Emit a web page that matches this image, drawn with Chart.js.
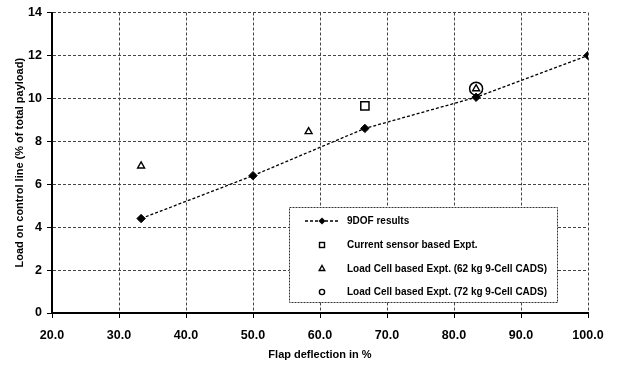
<!DOCTYPE html>
<html>
<head>
<meta charset="utf-8">
<script src="https://cdn.jsdelivr.net/npm/chart.js@4.4.1/dist/chart.umd.min.js"></script>
<style>
  html, body { margin: 0; padding: 0; background: #fff; }
  #wrap { width: 618px; height: 365px; position: relative; }
</style>
</head>
<body>
<div id="wrap"><canvas id="grafico"></canvas></div>
<script>
// ===== Datos =====
const flapPct = [33.3, 50.0, 66.7, 83.3, 100.0];
const dofLoad = [4.4, 6.4, 8.6, 10.05, 12.0];

const sensorX = [66.7];
const sensorY = [9.65];

const cell62X = [33.3, 58.3, 83.3];
const cell62Y = [6.85, 8.45, 10.45];

const cell72X = [83.3];
const cell72Y = [10.45];

const legendLabels = [
  "9DOF results",
  "Current sensor based Expt.",
  "Load Cell based Expt. (62 kg 9-Cell CADS)",
  "Load Cell based Expt. (72 kg 9-Cell CADS)"
];

const xTitle = "Flap deflection in %";
const yTitle = "Load on control line (% of total payload)";

const fuente = "'Liberation Sans', Arial, sans-serif";

function toPoints(xs, ys) {
  return xs.map((x, i) => ({ x, y: ys[i] }));
}

// ===== Leyenda dentro del área =====
const legendBox = {
  id: 'legendBox',
  afterDraw(chart) {
    const ctx = chart.ctx;
    const x0 = 289, y0 = 207, w = 268, h = 95;
    ctx.save();
    ctx.fillStyle = '#fff';
    ctx.fillRect(x0, y0, w, h);
    ctx.strokeStyle = '#333';
    ctx.lineWidth = 1;
    ctx.setLineDash([2, 1]);
    ctx.strokeRect(x0 + 0.5, y0 + 0.5, w, h);
    ctx.setLineDash([]);

    const rows = [221, 245, 268.5, 292];
    const mx = 322;
    ctx.strokeStyle = '#000';
    ctx.fillStyle = '#000';

    // fila 1: línea discontinua + rombo
    ctx.lineWidth = 1.3;
    ctx.setLineDash([3, 2]);
    ctx.beginPath();
    ctx.moveTo(305, rows[0]);
    ctx.lineTo(340, rows[0]);
    ctx.stroke();
    ctx.setLineDash([]);
    ctx.beginPath();
    ctx.moveTo(mx, rows[0] - 3.5);
    ctx.lineTo(mx + 3.5, rows[0]);
    ctx.lineTo(mx, rows[0] + 3.5);
    ctx.lineTo(mx - 3.5, rows[0]);
    ctx.closePath();
    ctx.fill();

    // fila 2: cuadrado
    ctx.lineWidth = 1.4;
    ctx.strokeRect(mx - 2.5, rows[1] - 2.5, 5, 5);

    // fila 3: triángulo
    ctx.beginPath();
    ctx.moveTo(mx, rows[2] - 3);
    ctx.lineTo(mx + 2.8, rows[2] + 2);
    ctx.lineTo(mx - 2.8, rows[2] + 2);
    ctx.closePath();
    ctx.stroke();

    // fila 4: círculo
    ctx.beginPath();
    ctx.arc(mx, rows[3], 2.6, 0, Math.PI * 2);
    ctx.stroke();

    ctx.font = "bold 10px " + fuente;
    ctx.textBaseline = 'middle';
    ctx.textAlign = 'left';
    legendLabels.forEach((t, i) => ctx.fillText(t, 347, rows[i] + 0.5));
    ctx.restore();
  }
};

// ===== Chart.js =====
const ctx = document.getElementById("grafico").getContext("2d");
const chart = new Chart(ctx, {
  type: 'scatter',
  data: {
    datasets: [
      {
        label: legendLabels[0],
        data: toPoints(flapPct, dofLoad),
        showLine: true,
        borderColor: '#000',
        borderWidth: 1.3,
        borderDash: [3, 2],
        pointStyle: 'rectRot',
        pointRadius: 4.2,
        pointBackgroundColor: '#000',
        pointBorderColor: '#000',
        pointBorderWidth: 1
      },
      {
        label: legendLabels[1],
        data: toPoints(sensorX, sensorY),
        pointStyle: 'rect',
        pointRadius: 5.8,
        pointBackgroundColor: 'rgba(0,0,0,0)',
        pointBorderColor: '#000',
        pointBorderWidth: 1.5
      },
      {
        label: legendLabels[2],
        data: toPoints(cell62X, cell62Y),
        pointStyle: 'triangle',
        pointRadius: 4,
        pointBackgroundColor: 'rgba(0,0,0,0)',
        pointBorderColor: '#000',
        pointBorderWidth: 1.4
      },
      {
        label: legendLabels[3],
        data: toPoints(cell72X, cell72Y),
        pointStyle: 'circle',
        pointRadius: 6.5,
        pointBackgroundColor: 'rgba(0,0,0,0)',
        pointBorderColor: '#000',
        pointBorderWidth: 1.5
      }
    ]
  },
  options: {
    responsive: true,
    maintainAspectRatio: false,
    animation: false,
    layout: { padding: { top: 11, right: 30, left: 0, bottom: 0 } },
    scales: {
      x: {
        type: 'linear',
        min: 20, max: 100,
        afterFit: s => { s.height = 52; },
        ticks: {
          stepSize: 10,
          color: '#000',
          padding: 10,
          font: { family: fuente, size: 12.5, weight: 'bold' },
          callback: v => v.toFixed(1)
        },
        grid: {
          color: '#444',
          lineWidth: 1,
          tickColor: '#000',
          tickLength: 5,
          tickBorderDash: []
        },
        border: { color: '#000', width: 2, dash: [3, 2] },
        title: {
          display: true,
          text: xTitle,
          color: '#000',
          font: { family: fuente, size: 11, weight: 'bold' },
          padding: { top: 0, bottom: 3 }
        }
      },
      y: {
        type: 'linear',
        min: 0, max: 14,
        afterFit: s => { s.width = 52; },
        ticks: {
          stepSize: 2,
          color: '#000',
          padding: 5,
          font: { family: fuente, size: 12.5, weight: 'bold' }
        },
        grid: {
          color: '#444',
          lineWidth: 1,
          tickColor: '#000',
          tickLength: 5,
          tickBorderDash: []
        },
        border: { color: '#000', width: 2, dash: [3, 2] },
        title: {
          display: true,
          text: yTitle,
          color: '#000',
          font: { family: fuente, size: 11, weight: 'bold' },
          padding: { top: 13, bottom: 0 }
        }
      }
    },
    plugins: {
      legend: { display: false },
      tooltip: { enabled: false }
    }
  },
  plugins: [legendBox]
});
</script>
</body>
</html>
